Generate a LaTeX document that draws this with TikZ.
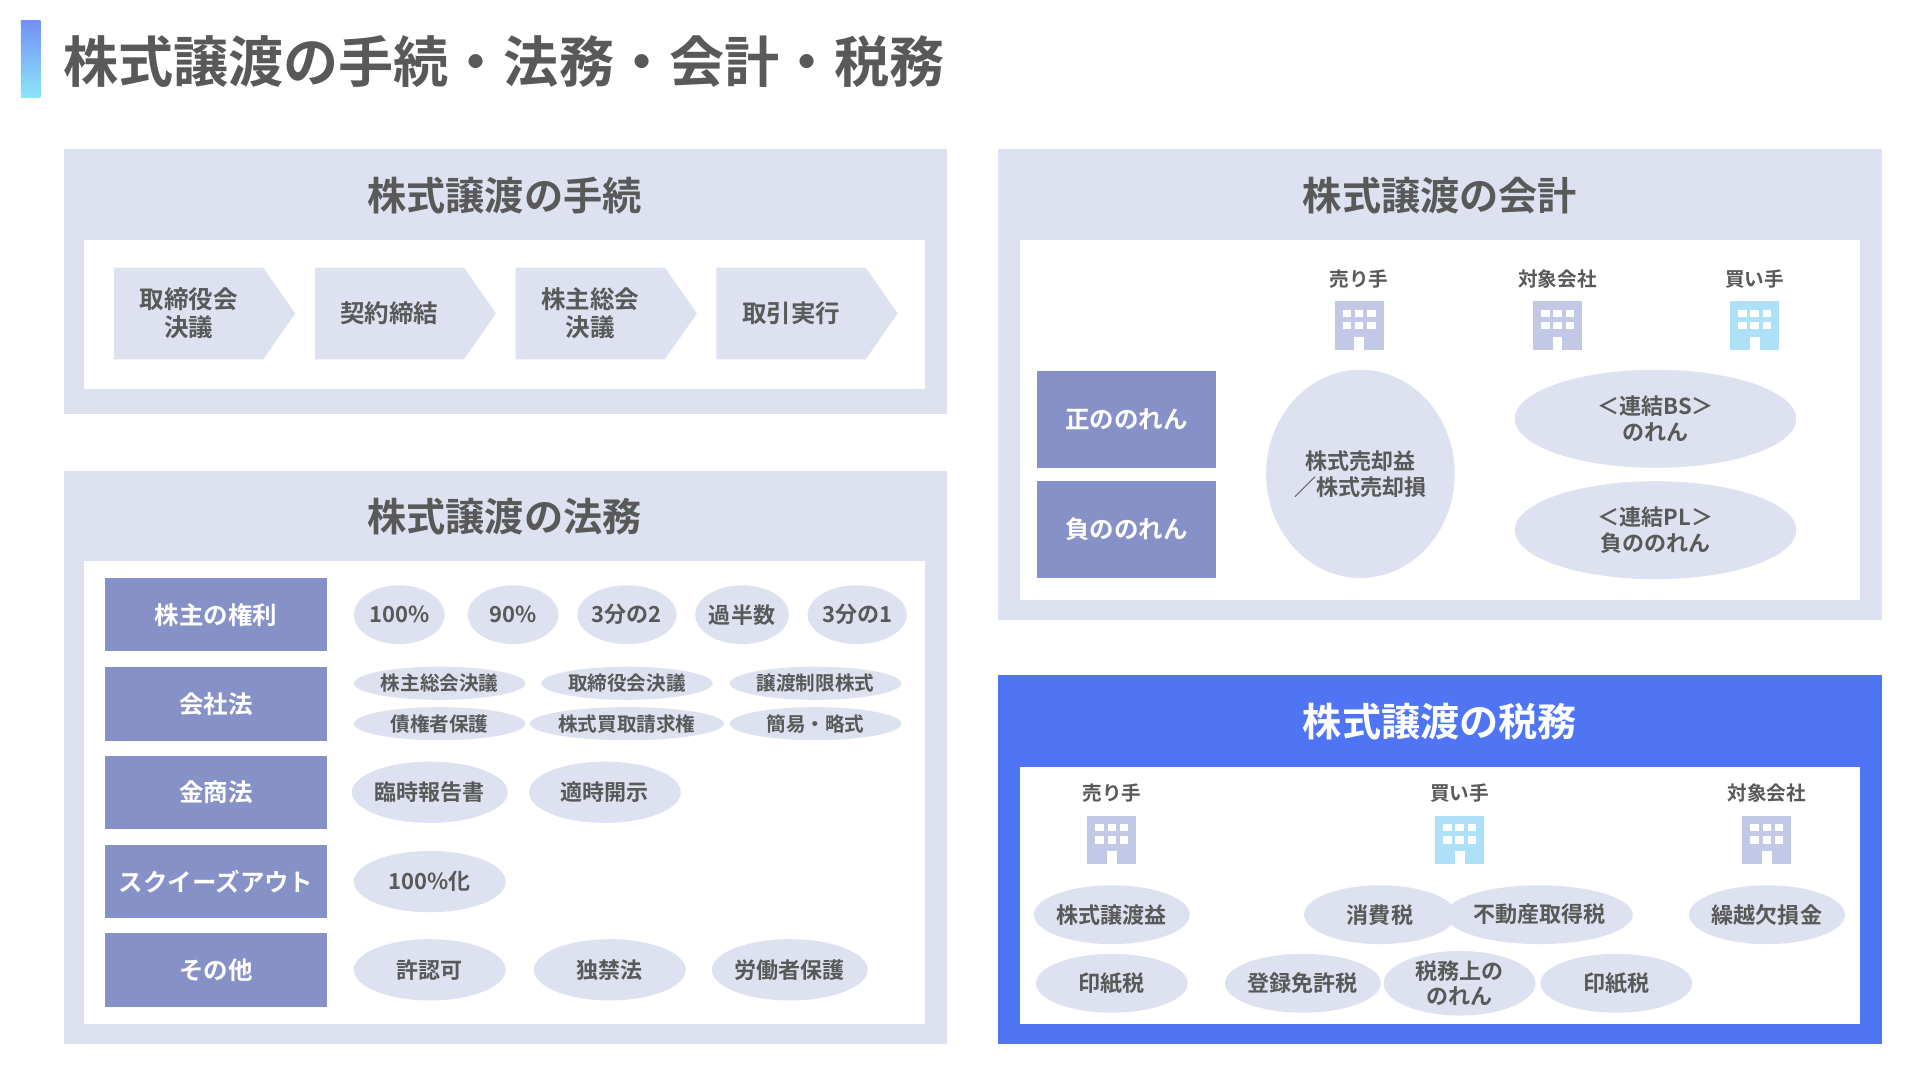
\documentclass[tikz,border=0pt]{standalone}
\usepackage{fontspec}
\setmainfont{Noto Sans CJK JP}[BoldFont={Noto Sans CJK JP Bold}]
\usetikzlibrary{shapes.geometric,shapes.symbols}
\definecolor{pan}{HTML}{DDE1F0}
\definecolor{lab}{HTML}{8691C8}
\definecolor{txt}{HTML}{595959}
\definecolor{bl}{HTML}{4F75F5}
\definecolor{ic1}{HTML}{C3C8E6}
\definecolor{ic2}{HTML}{AEE0F7}
\tikzset{x=1pt,y=-1pt,
 panel/.style={fill=pan,draw=none},
 white/.style={fill=white,draw=none},
 hdr/.style={font=\fontsize{32}{35}\bfseries,text=txt},
 chev/.style={signal,signal to=east,signal pointer angle=110,fill=pan,minimum width=148,minimum height=75,font=\fontsize{20}{23}\bfseries,text=txt,align=center,inner sep=0},
 labbox/.style={fill=lab,text=white,font=\fontsize{20}{23}\bfseries,minimum width=181,minimum height=60,inner sep=0},
 ell/.style={ellipse,fill=pan,text=txt,font=\fontsize{18}{21}\bfseries,align=center,inner sep=0},
 small/.style={font=\fontsize{16}{19}\bfseries,text=txt},
 bld/.pic={\fill[#1](-20,-20) rectangle (20,20);
   \foreach \i in {-1,0,1}{\foreach \j in {-13,-3}{\fill[white](\i*10-3.5,\j) rectangle (\i*10+3.5,\j+6);}}
   \fill[white](-4,9) rectangle (4,20);}
}
\begin{document}
\begin{tikzpicture}
\useasboundingbox[fill=white](0,0) rectangle (1568,882);
\shade[top color=bl!80,bottom color=ic2!80!cyan] (17,17) rectangle (33,80);
\node[anchor=west,font=\fontsize{45}{48}\bfseries,text=txt] (title) at (48,50) {株式譲渡の手続・法務・会計・税務};
% panel 1
\fill[panel](52,122) rectangle (773,338);
\node[hdr] (h1) at (412,160) {株式譲渡の手続};
\fill[white](69,196) rectangle (755,318);
\node[chev] (c1) at (154,256) {取締役会\\決議};
\node[chev] (c2) at (318,256) {契約締結};
\node[chev] (c3) at (482,256) {株主総会\\決議};
\node[chev] (c4) at (646,256) {取引実行};
% panel 2
\fill[panel](52,385) rectangle (773,853);
\node[hdr] (h2) at (412,422) {株式譲渡の法務};
\fill[white](69,458) rectangle (755,836);
\node[labbox] (r1) at (176.5,502) {株主の権利};
\node[labbox] (r2) at (176.5,575) {会社法};
\node[labbox] (r3) at (176.5,647) {金商法};
\node[labbox] (r4) at (176.5,720) {スクイーズアウト};
\node[labbox] (r5) at (176.5,792) {その他};
\foreach \x/\t [count=\k] in {326/100\%,419/90\%,512/3分の2,606/過半数,700/3分の1}
  \node[ell,minimum width=74,minimum height=48] (p\k) at (\x,502) {\t};
\foreach \x/\t [count=\k] in {359/株主総会決議,512/取締役会決議,666/譲渡制限株式}
  \node[ell,minimum width=140,minimum height=27,font=\fontsize{16}{18}\bfseries] (q\k) at (\x,558) {\t};
\foreach \x/\t [count=\k] in {359/債権者保護,512/株式買取請求権,666/簡易・略式}
  \node[ell,minimum width=140,minimum height=27,font=\fontsize{16}{18}\bfseries] (s\k) at (\x,591) {\t};
\node[ell,minimum width=124,minimum height=50] (k1) at (351,647) {臨時報告書};
\node[ell,minimum width=124,minimum height=50] (k2) at (494,647) {適時開示};
\node[ell,minimum width=124,minimum height=50] (k3) at (351,720) {100\%化};
\node[ell,minimum width=124,minimum height=50] (o1) at (351,792) {許認可};
\node[ell,minimum width=124,minimum height=50] (o2) at (498,792) {独禁法};
\node[ell,minimum width=124,minimum height=50] (o3) at (645,792) {労働者保護};
% panel 3
\fill[panel](815,122) rectangle (1537,506);
\node[hdr] (h3) at (1176,160) {株式譲渡の会計};
\fill[white](833,196) rectangle (1519,490);
\node[small] (a1) at (1110,228) {売り手};
\node[small] (a2) at (1272,228) {対象会社};
\node[small] (a3) at (1433,228) {買い手};
\pic at (1110,266) {bld=ic1};
\pic at (1272,266) {bld=ic1};
\pic at (1433,266) {bld=ic2};
\node[labbox,minimum width=146,minimum height=79] (g1) at (920,342.5) {正ののれん};
\node[labbox,minimum width=146,minimum height=79] (g2) at (920,432.5) {負ののれん};
\node[ell,minimum width=154,minimum height=170] (e1) at (1111,387) {株式売却益\\／株式売却損};
\node[ell,minimum width=230,minimum height=80] (e2) at (1352,342) {＜連結BS＞\\のれん};
\node[ell,minimum width=230,minimum height=80] (e3) at (1352,433) {＜連結PL＞\\負ののれん};
% panel 4
\fill[bl](815,551) rectangle (1537,853);
\node[hdr,text=white] (h4) at (1176,589) {株式譲渡の税務};
\fill[white](833,626) rectangle (1519,836);
\node[small] (b1) at (908,648) {売り手};
\node[small] (b2) at (1192,648) {買い手};
\node[small] (b3) at (1443,648) {対象会社};
\pic at (908,686) {bld=ic1};
\pic at (1192,686) {bld=ic2};
\pic at (1443,686) {bld=ic1};
\foreach \x/\y/\t [count=\k] in {908/747/株式譲渡益,1127/747/消費税,1257/747/不動産取得税,1443/747/繰越欠損金,908/803/印紙税,1064/803/登録免許税,1192/803/税務上の\\のれん,1320/803/印紙税}
  \node[ell,minimum width=124,minimum height=48] (t\k) at (\x,\y) {\t};
\end{tikzpicture}
\end{document}
